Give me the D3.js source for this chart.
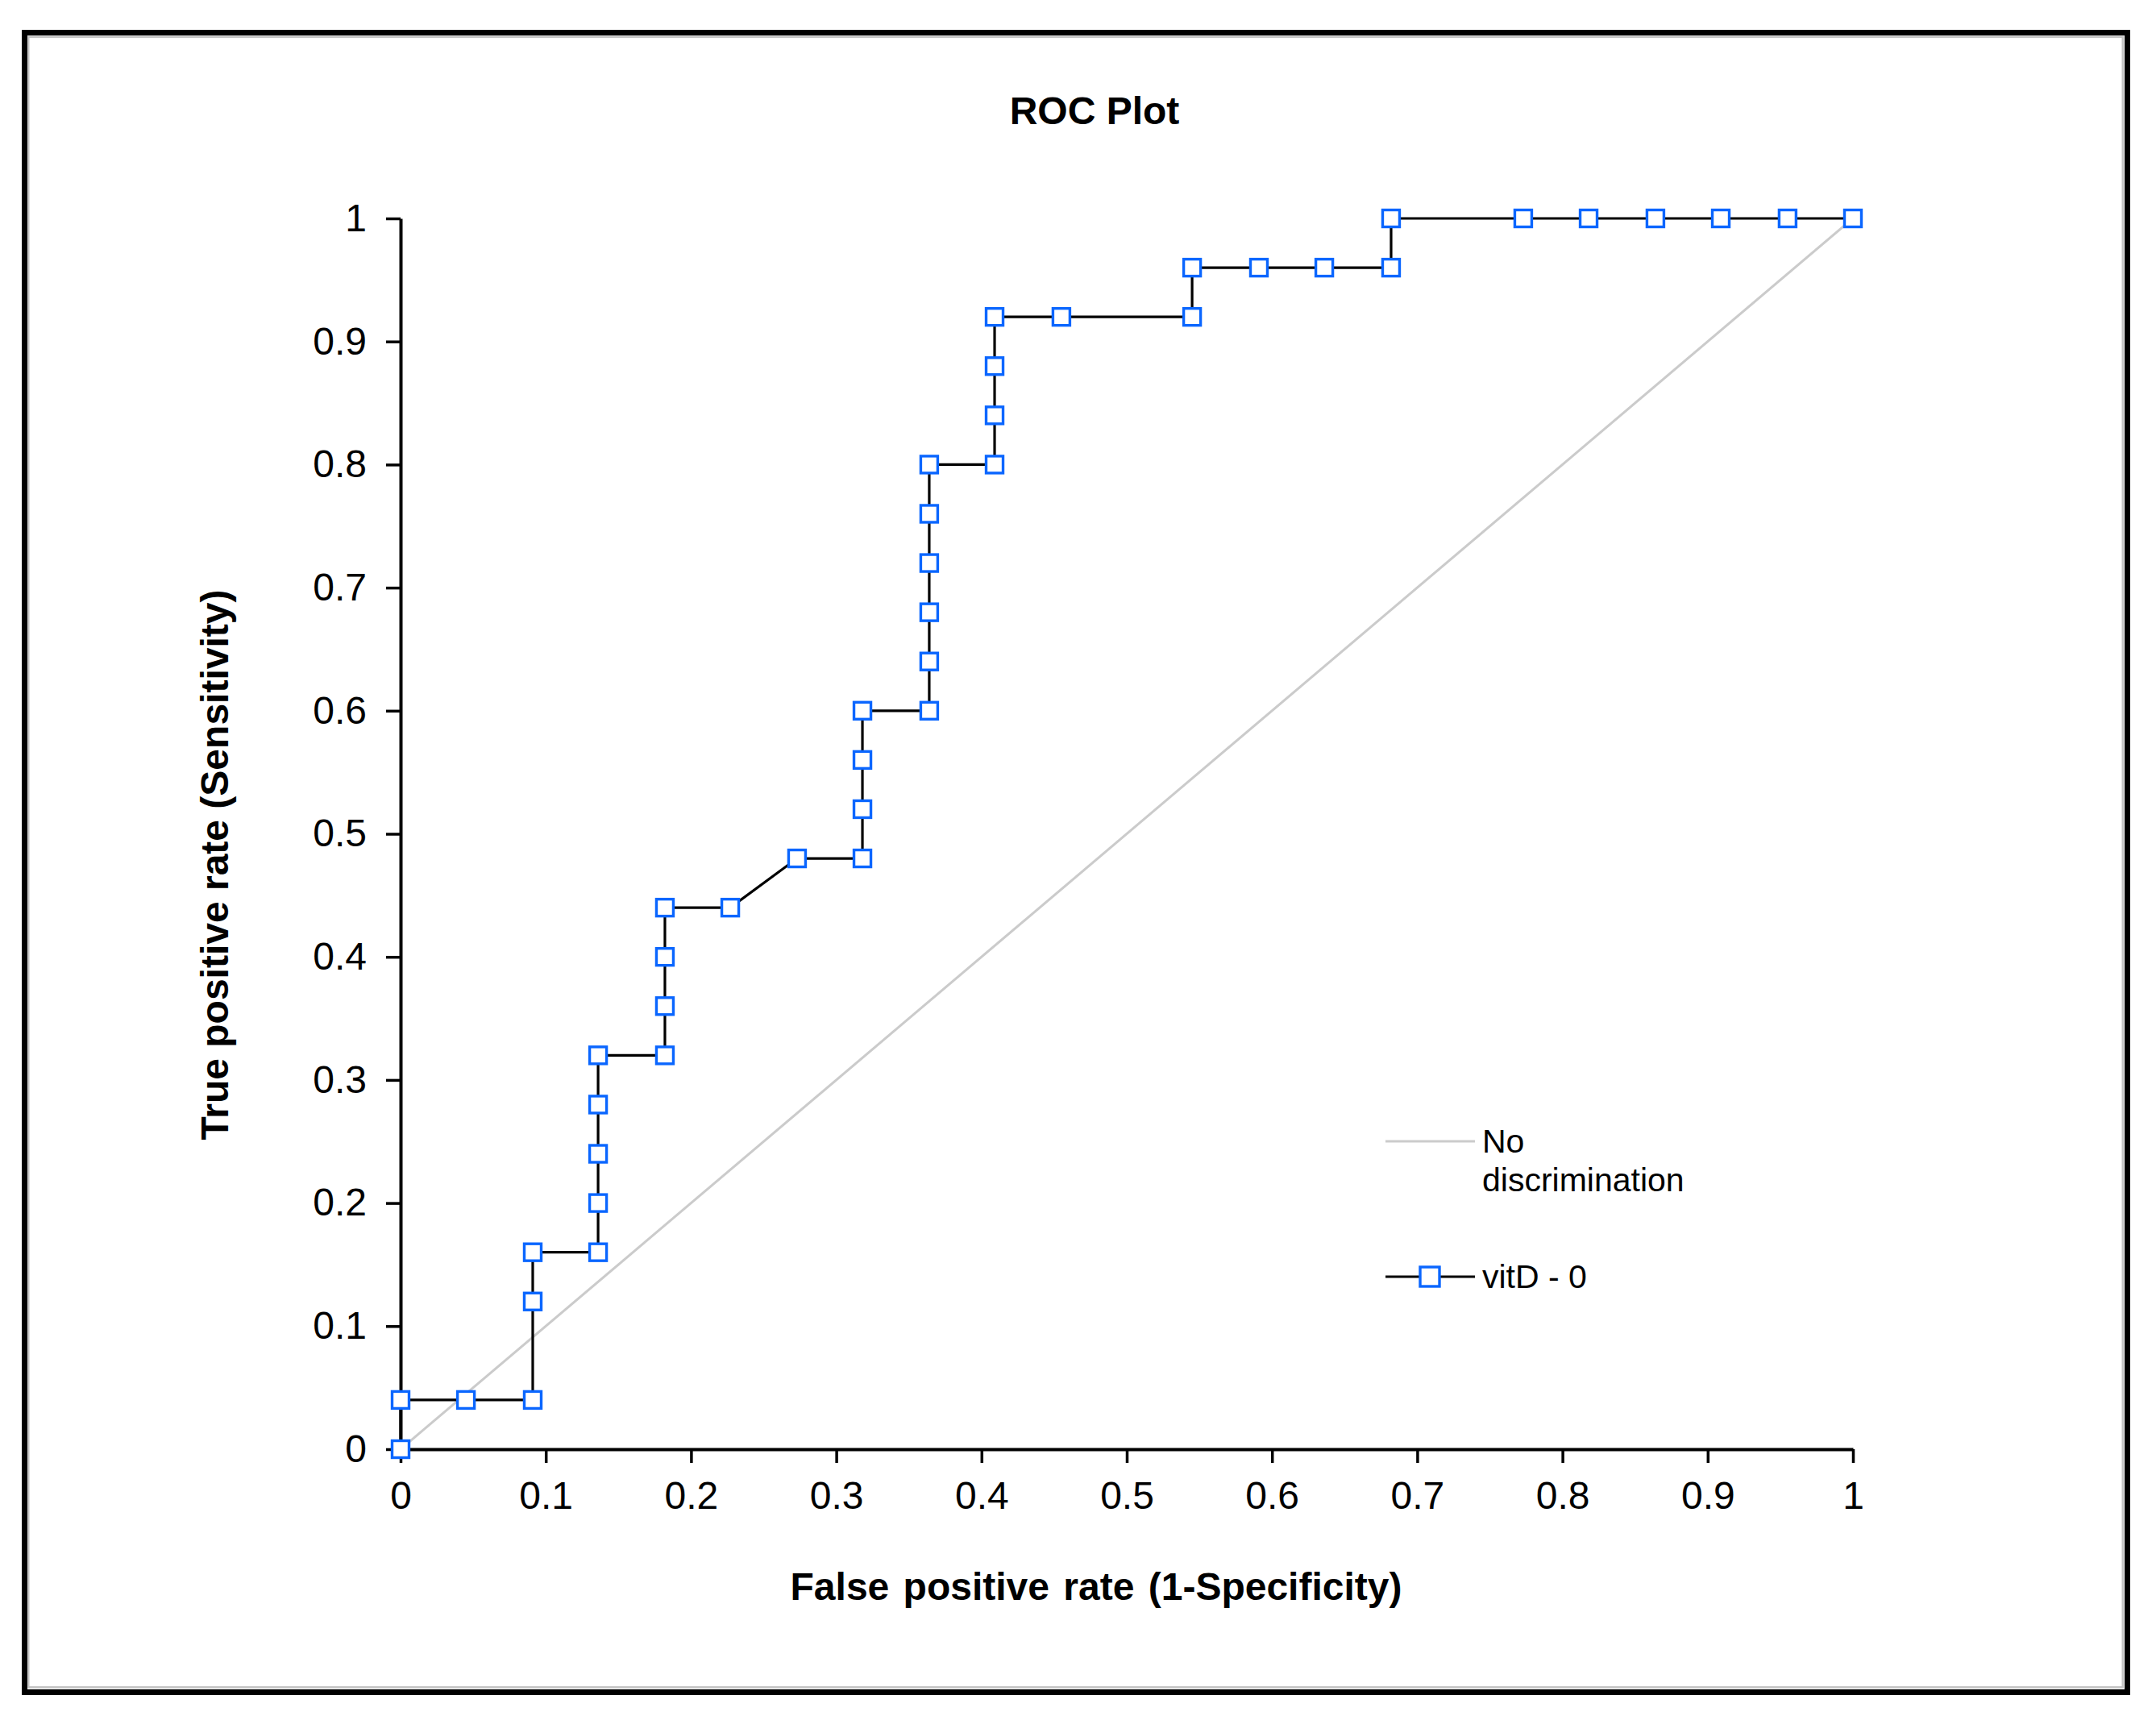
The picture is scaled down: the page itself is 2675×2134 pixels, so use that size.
<!DOCTYPE html>
<html>
<head>
<meta charset="utf-8">
<script src="https://cdn.jsdelivr.net/npm/d3@7"></script>
<style>
  body { margin: 0; background: #fff; }
  text { font-family: "Liberation Sans", Arial, sans-serif; fill: #000; }
</style>
</head>
<body>
<div id="chart"></div>
<script>
// Chart data
var fpr = [0, 0, 0.045, 0.091, 0.091, 0.091, 0.136, 0.136, 0.136, 0.136, 0.136,
  0.182, 0.182, 0.182, 0.182, 0.227, 0.273, 0.318, 0.318, 0.318, 0.318,
  0.364, 0.364, 0.364, 0.364, 0.364, 0.364, 0.409, 0.409, 0.409, 0.409,
  0.455, 0.545, 0.545, 0.591, 0.636, 0.682, 0.682, 0.773, 0.818, 0.864,
  0.909, 0.955, 1];
var tpr = [0, 0.04, 0.04, 0.04, 0.12, 0.16, 0.16, 0.20, 0.24, 0.28, 0.32,
  0.32, 0.36, 0.40, 0.44, 0.44, 0.48, 0.48, 0.52, 0.56, 0.60,
  0.60, 0.64, 0.68, 0.72, 0.76, 0.80, 0.80, 0.84, 0.88, 0.92,
  0.92, 0.92, 0.96, 0.96, 0.96, 0.96, 1, 1, 1, 1,
  1, 1, 1];
var noDiscrimination = [[0, 0], [1, 1]];
var xTicks = [0, 0.1, 0.2, 0.3, 0.4, 0.5, 0.6, 0.7, 0.8, 0.9, 1];
var yTicks = [0, 0.1, 0.2, 0.3, 0.4, 0.5, 0.6, 0.7, 0.8, 0.9, 1];
var seriesNames = ["No discrimination", "vitD - 0"];

var svgWidth = 2675;
var svgHeight = 2134;
var markerColor = "#0a66ff";

var svg = d3.select("#chart")
  .append("svg")
  .attr("width", svgWidth)
  .attr("height", svgHeight);

// outer frame: thick black line with a thin grey line inside
svg.append("rect")
  .attr("x", 30.5).attr("y", 40.5)
  .attr("width", 2609).attr("height", 2059)
  .attr("fill", "none")
  .attr("stroke", "#000")
  .attr("stroke-width", 7);
svg.append("rect")
  .attr("x", 35.2).attr("y", 45.8)
  .attr("width", 2598.6).attr("height", 2047.6)
  .attr("fill", "none")
  .attr("stroke", "#c4c4c4")
  .attr("stroke-width", 2.6);

// scales
var x = d3.scaleLinear().domain([0, 1]).range([497, 2299]);
var y = d3.scaleLinear().domain([0, 1]).range([1798, 271]);

// axes
var bottomAxis = d3.axisBottom(x)
  .tickValues(xTicks)
  .tickFormat(d3.format("~g"))
  .tickSizeInner(17)
  .tickSizeOuter(0)
  .tickPadding(23);
var leftAxis = d3.axisLeft(y)
  .tickValues(yTicks)
  .tickFormat(d3.format("~g"))
  .tickSizeInner(18)
  .tickSizeOuter(0)
  .tickPadding(24);

var xAxis = svg.append("g")
  .attr("transform", `translate(0, ${y(0)})`)
  .call(bottomAxis);
var yAxis = svg.append("g")
  .attr("transform", `translate(${x(0)}, 0)`)
  .call(leftAxis);

[xAxis, yAxis].forEach(function(ax) {
  ax.select(".domain").attr("stroke", "#000").attr("stroke-width", 4);
  ax.selectAll(".tick line").attr("stroke", "#000").attr("stroke-width", 3.5);
  ax.selectAll(".tick text")
    .attr("font-family", "'Liberation Sans', Arial, sans-serif")
    .attr("font-size", "48px")
    .attr("fill", "#000");
});

// no-discrimination diagonal
var line = d3.line()
  .x(d => x(d[0]))
  .y(d => y(d[1]));

svg.append("path")
  .datum(noDiscrimination)
  .attr("d", line)
  .attr("fill", "none")
  .attr("stroke", "#cbcbcb")
  .attr("stroke-width", 3);

// ROC curve
var rocPoints = fpr.map((f, i) => [f, tpr[i]]);

svg.append("path")
  .datum(rocPoints)
  .attr("d", line)
  .attr("fill", "none")
  .attr("stroke", "#000")
  .attr("stroke-width", 3.2);

var markerSize = 21;
svg.append("g")
  .selectAll("rect")
  .data(rocPoints)
  .enter()
  .append("rect")
  .attr("x", d => x(d[0]) - markerSize / 2)
  .attr("y", d => y(d[1]) - markerSize / 2)
  .attr("width", markerSize)
  .attr("height", markerSize)
  .attr("fill", "#fff")
  .attr("stroke", markerColor)
  .attr("stroke-width", 3.4);

// title and axis titles
svg.append("text")
  .attr("x", 1358)
  .attr("y", 154)
  .attr("text-anchor", "middle")
  .attr("font-size", "48px")
  .attr("font-weight", "bold")
  .text("ROC Plot");

svg.append("text")
  .attr("x", 1360)
  .attr("y", 1985)
  .attr("text-anchor", "middle")
  .attr("font-size", "48px")
  .attr("font-weight", "bold")
  .attr("word-spacing", "4px")
  .text("False positive rate (1-Specificity)");

svg.append("text")
  .attr("transform", "translate(283, 1073) rotate(-90)")
  .attr("text-anchor", "middle")
  .attr("font-size", "48px")
  .attr("font-weight", "bold")
  .text("True positive rate (Sensitivity)");

// legend
var legend = svg.append("g");

legend.append("line")
  .attr("x1", 1719).attr("x2", 1830)
  .attr("y1", 1416).attr("y2", 1416)
  .attr("stroke", "#cbcbcb")
  .attr("stroke-width", 3);
legend.append("text")
  .attr("x", 1839).attr("y", 1430)
  .attr("font-size", "41px")
  .text(seriesNames[0].split(" ")[0]);
legend.append("text")
  .attr("x", 1839).attr("y", 1478)
  .attr("font-size", "41px")
  .text(seriesNames[0].split(" ")[1]);

legend.append("line")
  .attr("x1", 1719).attr("x2", 1830)
  .attr("y1", 1584).attr("y2", 1584)
  .attr("stroke", "#000")
  .attr("stroke-width", 3.2);
legend.append("rect")
  .attr("x", 1774 - 12).attr("y", 1584 - 12)
  .attr("width", 24).attr("height", 24)
  .attr("fill", "#fff")
  .attr("stroke", markerColor)
  .attr("stroke-width", 3.4);
legend.append("text")
  .attr("x", 1839).attr("y", 1598)
  .attr("font-size", "41px")
  .text(seriesNames[1]);
</script>
</body>
</html>
